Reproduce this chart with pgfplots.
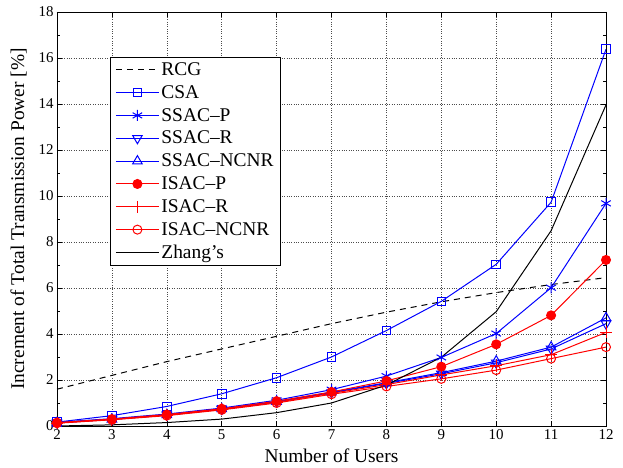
\documentclass[border=0pt]{standalone}
\usepackage{pgfplots}
\pgfplotsset{compat=1.18}
\usepackage{fontspec}
\setmainfont{Liberation Serif}
\begin{document}
\begin{tikzpicture}
\begin{axis}[
  scale only axis,
  width=549bp, height=414bp,
  xmin=2, xmax=12, ymin=0, ymax=18,
  xtick={2,3,...,12}, ytick={0,2,...,18},
  minor y tick num=1,
  tick align=inside,
  major tick length=5bp, minor tick length=3bp,
  axis line style={line width=0.9pt},
  every tick/.style={black, line width=0.6pt},
  grid=major,
  major grid style={dotted, black!70, line width=0.6pt},
  /pgf/number format/assume math mode=true,
  tick label style={font=\fontsize{15}{17}\selectfont},
  label style={font=\fontsize{19.5}{22}\selectfont},
  xlabel={Number of Users},
  ylabel={Increment of Total Transmission Power [\%]},
  xlabel style={yshift=-2bp},
  ylabel style={yshift=5bp},
  legend cell align=left,
  legend style={at={(0.0965,0.891)}, anchor=north west, font=\fontsize{19.5}{21}\selectfont,
    draw=black, line width=0.9pt, inner xsep=5bp, inner ysep=3bp, row sep=4.5bp,
    /tikz/every even column/.append style={column sep=1bp}},
  legend image code/.code={\draw[mark repeat=2,mark phase=2] plot coordinates {(0bp,0bp)(21.5bp,0bp)(43bp,0bp)};},
  every axis plot/.append style={line width=1pt},
]
\addplot[black, dashed, dash pattern=on 6bp off 5bp] coordinates {(2,1.6)(3,2.2)(4,2.8)(5,3.35)(6,3.9)(7,4.45)(8,4.95)(9,5.4)(10,5.8)(11,6.15)(12,6.45)};
\addlegendentry{RCG}
\addplot[blue, mark=square, mark size=4.3bp, mark options={solid}] coordinates {(2,0.17)(3,0.45)(4,0.85)(5,1.4)(6,2.1)(7,3.0)(8,4.15)(9,5.42)(10,7.03)(11,9.73)(12,16.38)};
\addlegendentry{CSA}
\addplot[blue, mark=asterisk, mark size=5.5bp] coordinates {(2,0.16)(3,0.32)(4,0.52)(5,0.78)(6,1.12)(7,1.58)(8,2.17)(9,2.98)(10,4.02)(11,6.01)(12,9.68)};
\addlegendentry{SSAC--P}
\addplot[blue, mark=triangle, mark size=5.5bp, mark options={rotate=180}] coordinates {(2,0.14)(3,0.29)(4,0.48)(5,0.73)(6,1.05)(7,1.45)(8,1.85)(9,2.27)(10,2.75)(11,3.35)(12,4.45)};
\addlegendentry{SSAC--R}
\addplot[blue, mark=triangle, mark size=5.5bp] coordinates {(2,0.14)(3,0.29)(4,0.48)(5,0.74)(6,1.06)(7,1.47)(8,1.88)(9,2.32)(10,2.82)(11,3.43)(12,4.7)};
\addlegendentry{SSAC--NCNR}
\addplot[red, mark=*, mark size=4.5bp] coordinates {(2,0.15)(3,0.3)(4,0.5)(5,0.75)(6,1.08)(7,1.48)(8,1.96)(9,2.58)(10,3.55)(11,4.81)(12,7.22)};
\addlegendentry{ISAC--P}
\addplot[red, mark=+, mark size=6bp] coordinates {(2,0.13)(3,0.28)(4,0.47)(5,0.72)(6,1.03)(7,1.42)(8,1.8)(9,2.22)(10,2.62)(11,3.1)(12,4.07)};
\addlegendentry{ISAC--R}
\addplot[red, mark=o, mark size=4.5bp] coordinates {(2,0.12)(3,0.27)(4,0.45)(5,0.7)(6,1.0)(7,1.38)(8,1.72)(9,2.05)(10,2.43)(11,2.93)(12,3.43)};
\addlegendentry{ISAC--NCNR}
\addplot[black] coordinates {(2,0.0)(3,0.05)(4,0.15)(5,0.3)(6,0.58)(7,1.0)(8,1.78)(9,2.99)(10,4.97)(11,8.49)(12,13.96)};
\addlegendentry{Zhang's}
\end{axis}
\pgfresetboundingbox
\path ([shift={(-57bp,-42bp)}]current axis.south west) rectangle ([shift={(17bp,12bp)}]current axis.north east);
\end{tikzpicture}
\end{document}
